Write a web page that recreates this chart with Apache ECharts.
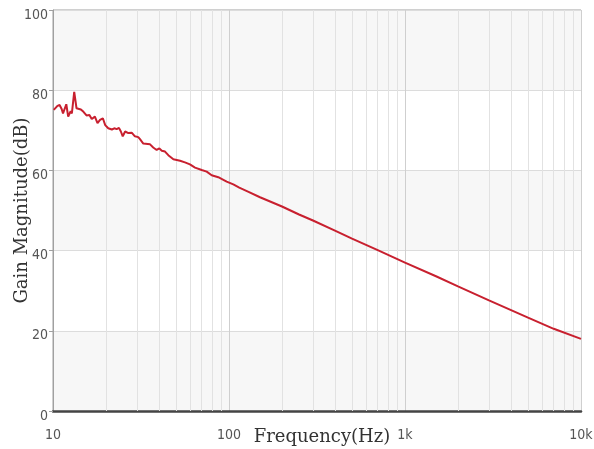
<!DOCTYPE html>
<html>
<head>
<meta charset="utf-8">
<script src="https://cdn.jsdelivr.net/npm/echarts@6/dist/echarts.min.js"></script>
<style>
html,body{margin:0;padding:0;background:#fff;}
#gain{width:594px;height:449px;}
</style>
</head>
<body>
<div id="gain"></div>
<script>
// 频率 (Hz)
var freqs = [10.1, 10.6, 10.9, 11.2, 11.4, 11.9, 12.2, 12.6, 12.8, 13.2, 13.6, 14.4, 14.9, 15.5, 16.1, 16.6, 16.9, 17.3, 17.9, 18.5,
	19.2, 19.8, 20.6, 21.6, 22.3, 23.0, 23.7, 24.3, 24.9, 25.7, 26.8, 28.0, 29.2, 30.5, 31.2, 32.6, 35.6, 37.1, 38.8, 40.2,
	41.5, 43.3, 45.2, 48.3, 52.7, 56.2, 60.0, 64.1, 70.0, 74.7, 79.7, 86.9, 97.0, 105.8, 114.4, 130, 150, 200, 250, 300,
	400, 500, 700, 1000, 1500, 2000, 3000, 5000, 7000, 10000];
// 增益 (dB)
var gains = [75.1, 76.1, 76.3, 75.3, 74.2, 76.5, 73.4, 74.8, 74.2, 79.6, 75.5, 75.2, 74.6, 73.7, 73.8, 72.8, 73.2, 73.4, 71.8, 72.6,
	73.0, 71.3, 70.5, 70.2, 70.5, 70.3, 70.6, 69.7, 68.5, 69.7, 69.3, 69.4, 68.5, 68.3, 67.8, 66.7, 66.5, 65.7, 65.1, 65.5,
	64.9, 64.7, 63.8, 62.8, 62.4, 62.0, 61.5, 60.7, 60.1, 59.7, 58.8, 58.3, 57.2, 56.5, 55.7, 54.6, 53.3, 51.0, 49.0, 47.5,
	45.0, 43.0, 40.1, 37.0, 33.6, 31.1, 27.6, 23.3, 20.5, 18.0];
var xTicks = {10: '10', 100: '100', 1000: '1k', 10000: '10k'};

var series = [];
for (var i = 0; i < freqs.length; i++) {
	series.push([freqs[i], gains[i]]);
}

// 次网格线 2..9
var minor = [];
for (var d = 10; d < 10000; d *= 10) {
	for (var k = 2; k < 10; k++) minor.push({xAxis: d * k});
}

var tickFont = '"Liberation Sans Narrow", "DejaVu Sans Condensed", "Liberation Sans", sans-serif';
var nameFont = '"DejaVu Serif", "Liberation Serif", serif';

var myChart = echarts.init(document.getElementById('gain'), null, {renderer: 'canvas'});
var option = {
	animation: false,
	grid: {left: 53, right: 13, top: 10, bottom: 38, containLabel: false, outerBoundsMode: 'none',
		show: true, borderColor: '#a0a0a0', borderWidth: 1, backgroundColor: 'transparent'},
	xAxis: {
		type: 'log',
		logBase: 10,
		min: 10,
		max: 10000,
		name: 'Frequency(Hz)',
		nameLocation: 'middle',
		nameGap: 17,
		nameMoveOverlap: false,
		nameTextStyle: {fontFamily: nameFont, fontSize: 18, color: '#333', padding: [0, 0, 0, 10]},
		axisLine: {show: true, lineStyle: {color: '#444', width: 2.5}},
		axisTick: {show: false},
		axisLabel: {fontFamily: tickFont, fontSize: 14, color: '#555', margin: 17,
			formatter: function (v) { return xTicks[Math.round(v)] || ''; }},
		splitLine: {show: true, lineStyle: {color: '#cfcfcf', width: 1}}
	},
	yAxis: {
		type: 'value',
		min: 0,
		max: 100,
		interval: 20,
		name: 'Gain Magnitude(dB)',
		nameLocation: 'middle',
		nameGap: 22,
		nameMoveOverlap: false,
		nameTextStyle: {fontFamily: nameFont, fontSize: 18, color: '#333'},
		axisLine: {show: true, lineStyle: {color: '#a0a0a0', width: 1}},
		axisTick: {show: true, length: 4, lineStyle: {color: '#a0a0a0'}},
		axisLabel: {fontFamily: tickFont, fontSize: 14, color: '#555', margin: 5, verticalAlign: 'top', lineHeight: 10},
		splitLine: {show: true, lineStyle: {color: '#dcdcdc', width: 1}},
		splitArea: {show: true, areaStyle: {color: ['#f7f7f7', '#ffffff']}}
	},
	series: [{
		type: 'line',
		data: series,
		showSymbol: false,
		lineStyle: {color: '#c8202f', width: 2},
		itemStyle: {color: '#c8202f'},
		z: 5,
		markLine: {
			silent: true,
			symbol: ['none', 'none'],
			label: {show: false},
			lineStyle: {color: '#e2e2e2', width: 1, type: 'solid'},
			data: minor,
			z: 1
		}
	}]
};
myChart.setOption(option);
</script>
</body>
</html>
